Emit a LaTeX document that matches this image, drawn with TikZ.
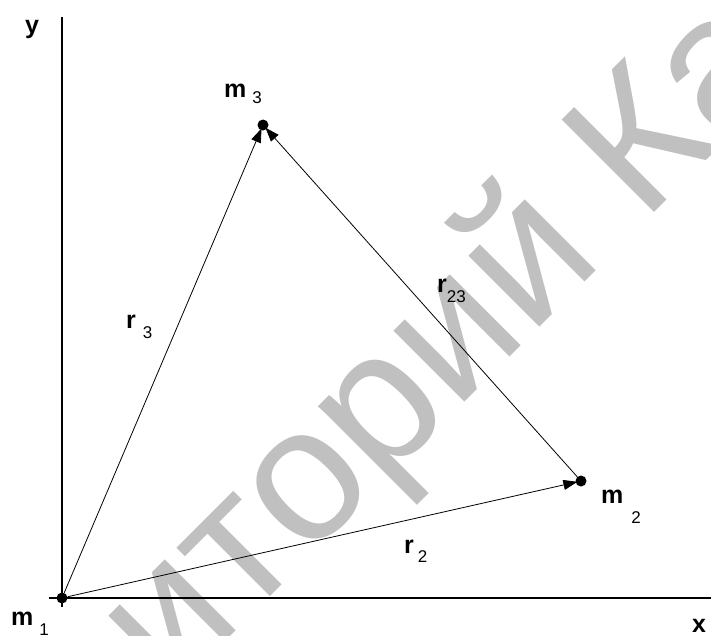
\documentclass[tikz,border=0pt]{standalone}
\usepackage{fontspec}
\setmainfont{Liberation Sans}
\newfontfamily\wmfont{Liberation Sans}
\usetikzlibrary{arrows.meta}
\definecolor{wmgray}{RGB}{192,192,192}
\tikzset{
  mass/.style={circle,fill=black,inner sep=0pt,minimum size=11pt},
  vec/.style={line width=0.8pt,-{Triangle[length=14pt,width=10pt]},shorten >=-2pt},
  axis/.style={line width=1.2pt},
  lbl/.style={anchor=base west,inner sep=0pt,font=\fontsize{25}{25}\selectfont\bfseries},
  wm/.style={rotate=45,inner sep=0pt,text=wmgray,font=\wmfont\fontsize{190}{190}\selectfont}
}
\newcommand{\subtxt}[2]{\raisebox{-#1pt}{\fontsize{17}{17}\selectfont\mdseries #2}}
\begin{document}
\begin{tikzpicture}[x=1pt,y=-1pt]
\useasboundingbox (0,0) rectangle (711,635);
\begin{scope}
\clip (0,0) rectangle (711,635);
\node[wm,anchor=base west] (wmK) at (643,224) {Ка};
\node[wm,anchor=base east] (wmR) at (wmK.base west) {Репозиторий\kern0.278em};
\end{scope}
% axes
\coordinate (ytop) at (62,17);
\coordinate (ybot) at (62,607);
\coordinate (xl) at (49,598);
\coordinate (xr) at (711,598);
\draw[axis] (ytop) -- (ybot);
\draw[axis] (xl) -- (xr);
% masses
\node[mass] (m1) at (62,598) {};
\node[mass] (m3) at (263,125) {};
\node[mass] (m2) at (581,481) {};
% vectors
\draw[vec] (m1) -- (m3);
\draw[vec] (m2) -- (m3);
\draw[vec] (m1) -- (m2);
% labels
\node[lbl] (ly) at (25,33) {y};
\node[lbl] (lx) at (692,632) {x};
\node[lbl] (lm3) at (224,97) {m\hspace{6pt}\subtxt{6}{3}};
\node[lbl] (lm2) at (601,503) {m\hspace{8pt}\subtxt{20}{2}};
\node[lbl] (lm1) at (11,625) {m\hspace{6pt}\subtxt{10}{1}};
\node[lbl] (lr3) at (126,328) {r\hspace{7pt}\subtxt{10}{3}};
\node[lbl] (lr2) at (404,553) {r\hspace{4pt}\subtxt{9}{2}};
\node[lbl] (lr23) at (437,292) {r\subtxt{10}{23}};
\end{tikzpicture}
\end{document}
